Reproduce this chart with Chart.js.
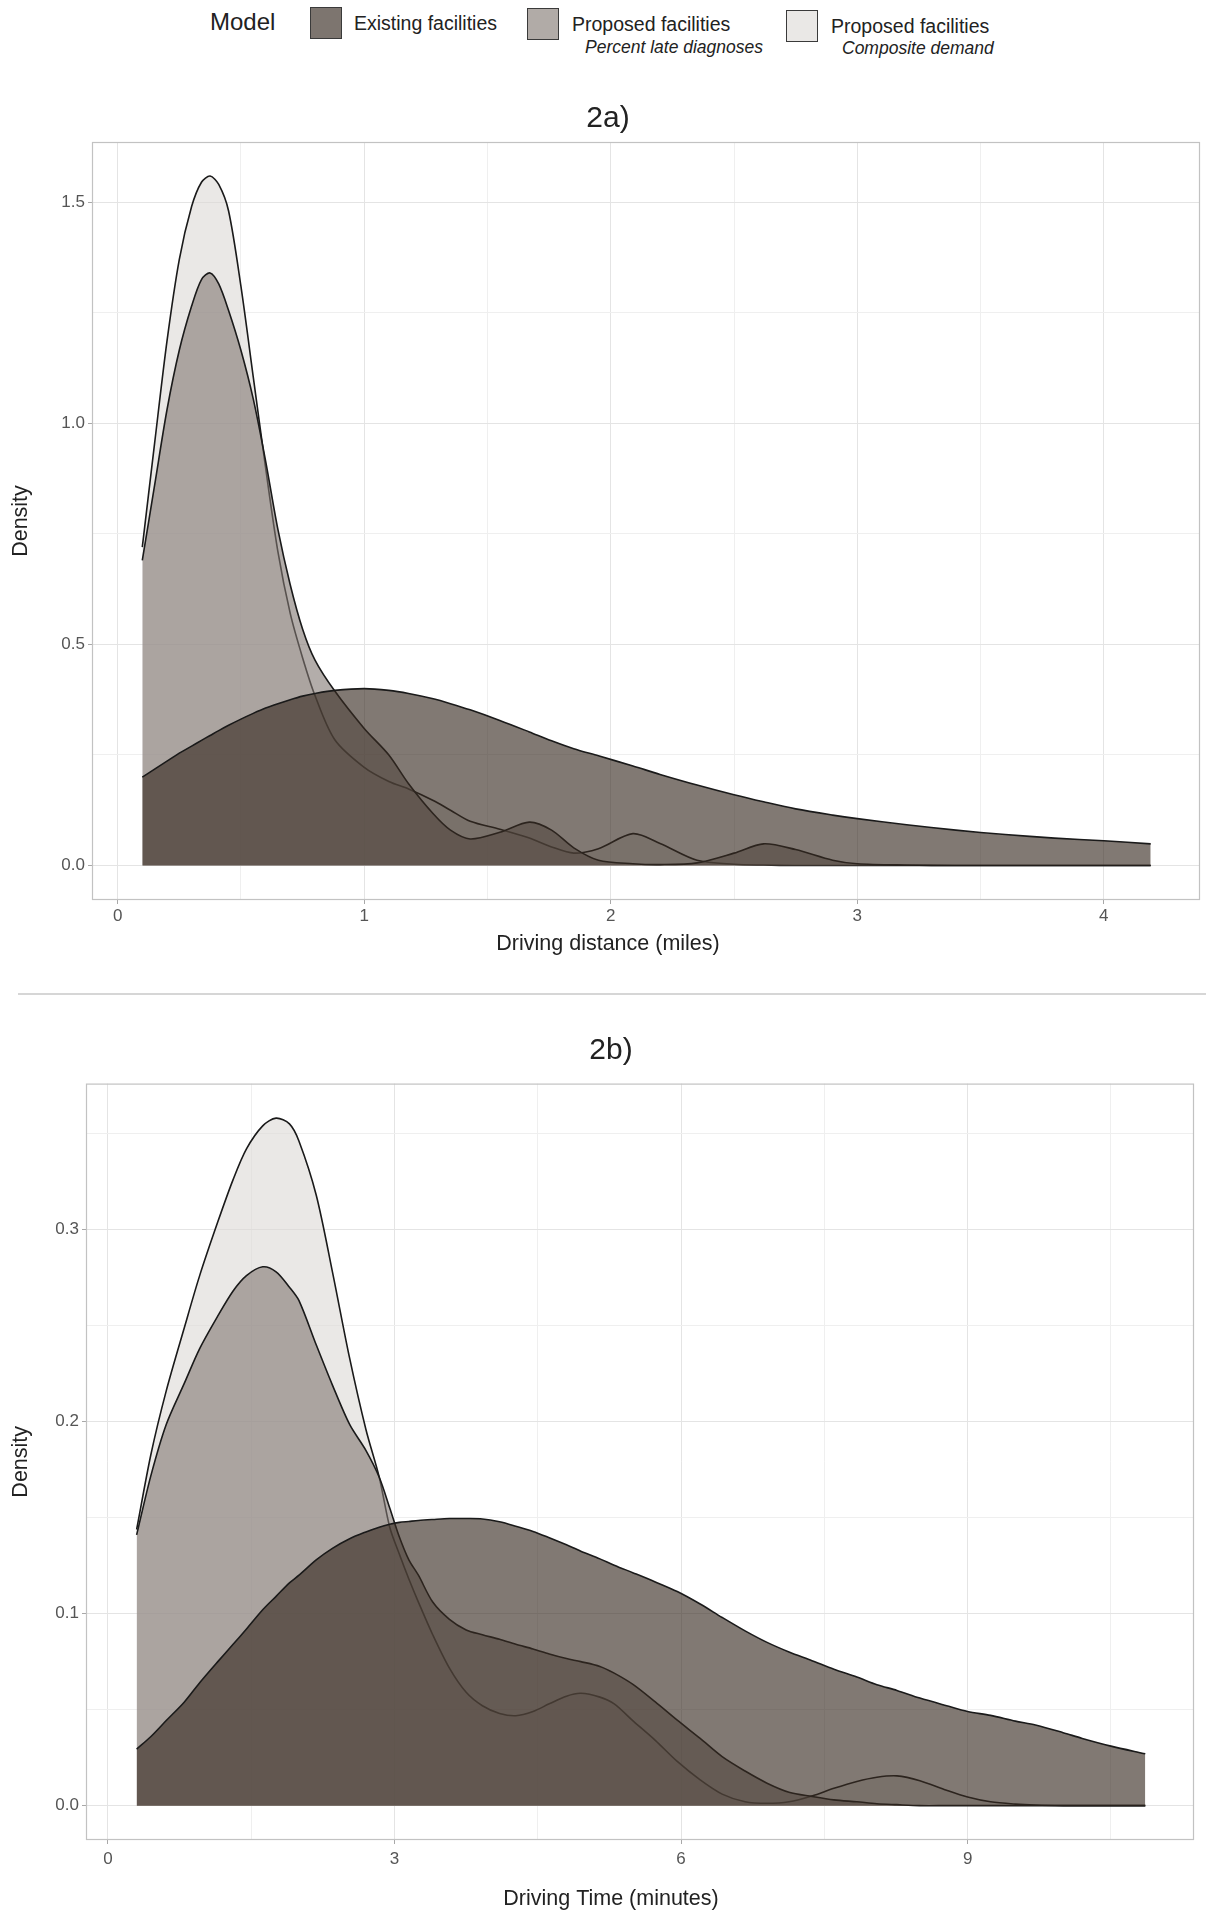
<!DOCTYPE html>
<html>
<head>
<meta charset="utf-8">
<script src="https://cdn.jsdelivr.net/npm/chart.js@4.4.1/dist/chart.umd.min.js"></script>
<style>
  html,body{margin:0;padding:0;background:#ffffff;overflow:hidden;}
  body{width:1206px;height:1920px;position:relative;font-family:"Liberation Sans",Arial,sans-serif;color:#222;}
  .t{position:absolute;white-space:nowrap;}
  .box{position:absolute;width:32px;height:32px;border:1.6px solid #3a3a3a;box-sizing:border-box;}
  #w1{position:absolute;left:0;top:100px;width:1206px;height:880px;}
  #w2{position:absolute;left:0;top:1000px;width:1206px;height:920px;}
  .sep{position:absolute;left:18px;top:993px;width:1188px;height:2px;background:#d6d6d6;}
</style>
</head>
<body>
<div class="t" style="left:210px;top:7px;font-size:24px;line-height:30px;">Model</div>
<div class="box" style="left:310px;top:7px;background:#7d756f;"></div>
<div class="t" style="left:354px;top:11px;font-size:19.5px;line-height:24px;">Existing facilities</div>
<div class="box" style="left:527px;top:8px;background:#b1aba7;"></div>
<div class="t" style="left:572px;top:12px;font-size:19.5px;line-height:24px;">Proposed facilities</div>
<div class="t" style="left:585px;top:36px;font-size:17.5px;line-height:22px;font-style:italic;">Percent late diagnoses</div>
<div class="box" style="left:786px;top:10px;background:#eae8e6;"></div>
<div class="t" style="left:831px;top:14px;font-size:19.5px;line-height:24px;">Proposed facilities</div>
<div class="t" style="left:842px;top:37px;font-size:17.5px;line-height:22px;font-style:italic;">Composite demand</div>

<div id="w1"><canvas id="c1" width="1206" height="880"></canvas></div>
<div class="sep"></div>
<div id="w2"><canvas id="c2" width="1206" height="920"></canvas></div>

<script>
// ---------- Panel 2a: driving distance (miles) ----------
const distX = [0.1,0.15,0.2,0.25,0.3,0.34,0.375,0.41,0.45,0.5,0.55,0.6,0.65,0.7,0.75,0.8,0.88,1.0,1.1,1.18,1.28,1.35,1.43,1.55,1.67,1.76,1.85,1.95,2.09,2.2,2.35,2.5,2.62,2.75,2.9,3.0,3.2,3.4,3.6,3.8,4.0,4.19];
const distExisting = [0.2,0.218,0.236,0.254,0.27,0.283,0.294,0.305,0.317,0.331,0.344,0.356,0.366,0.375,0.383,0.389,0.396,0.4,0.396,0.389,0.377,0.366,0.352,0.328,0.302,0.282,0.264,0.248,0.225,0.206,0.182,0.16,0.144,0.128,0.114,0.106,0.092,0.08,0.07,0.062,0.056,0.049];
const distLate = [0.69,0.86,1.03,1.165,1.265,1.325,1.34,1.315,1.255,1.165,1.055,0.915,0.76,0.635,0.535,0.465,0.395,0.31,0.25,0.185,0.117,0.08,0.06,0.075,0.098,0.08,0.04,0.012,0.004,0.002,0.006,0.028,0.049,0.036,0.012,0.004,0.001,0,0,0,0,0];
const distComposite = [0.72,0.955,1.185,1.37,1.49,1.545,1.559,1.54,1.48,1.31,1.105,0.9,0.71,0.57,0.47,0.385,0.285,0.222,0.19,0.173,0.147,0.125,0.1,0.082,0.062,0.042,0.028,0.038,0.072,0.05,0.012,0.003,0.001,0,0,0,0,0,0,0,0,0];
const distXTicks = [0,0.5,1,1.5,2,2.5,3,3.5,4];
const distXLabels = ['0','','1','','2','','3','','4'];
const distYTicks = [0,0.25,0.5,0.75,1,1.25,1.5];
const distYLabels = ['0.0','','0.5','','1.0','','1.5'];

// ---------- Panel 2b: driving time (minutes) ----------
const timeX = [0.3,0.45,0.61,0.8,0.96,1.15,1.31,1.45,1.62,1.76,1.9,2.0,2.18,2.35,2.53,2.7,2.84,2.95,3.05,3.15,3.25,3.4,3.575,3.75,3.92,4.1,4.27,4.45,4.62,4.8,4.95,5.15,5.3,5.5,5.73,5.96,6.2,6.43,6.67,6.9,7.13,7.37,7.6,7.84,8.05,8.26,8.5,8.78,9.0,9.24,9.5,9.71,10.0,10.2,10.5,10.86];
const timeExisting = [0.0294,0.036,0.0443,0.054,0.064,0.075,0.084,0.092,0.102,0.109,0.116,0.12,0.128,0.134,0.139,0.1425,0.145,0.1465,0.1475,0.148,0.1485,0.149,0.1495,0.1495,0.1493,0.1478,0.1455,0.1428,0.1395,0.1358,0.1325,0.1285,0.1252,0.1212,0.1165,0.1115,0.105,0.098,0.091,0.085,0.08,0.0755,0.071,0.067,0.063,0.06,0.056,0.052,0.049,0.047,0.044,0.042,0.038,0.035,0.031,0.027];
const timeLate = [0.141,0.172,0.1985,0.22,0.238,0.255,0.268,0.276,0.2806,0.278,0.27,0.263,0.24,0.219,0.1985,0.185,0.171,0.155,0.14,0.128,0.12,0.106,0.097,0.0915,0.089,0.0866,0.084,0.0816,0.079,0.0766,0.075,0.0725,0.069,0.063,0.054,0.0445,0.035,0.0255,0.018,0.0117,0.007,0.0048,0.003,0.002,0.001,0.0005,0,0,0,0,0,0,0,0,0,0];
const timeComposite = [0.1438,0.183,0.216,0.249,0.276,0.304,0.326,0.342,0.354,0.358,0.355,0.346,0.318,0.278,0.233,0.196,0.171,0.145,0.131,0.118,0.106,0.089,0.0716,0.059,0.052,0.048,0.0468,0.049,0.053,0.057,0.0585,0.0565,0.053,0.044,0.034,0.023,0.0134,0.006,0.002,0.0012,0.002,0.005,0.009,0.0126,0.0148,0.0155,0.013,0.008,0.0045,0.002,0.0008,0.0003,0,0,0,0];
const timeXTicks = [0,1.5,3,4.5,6,7.5,9,10.5];
const timeXLabels = ['0','','3','','6','','9',''];
const timeYTicks = [0,0.05,0.1,0.15,0.2,0.25,0.3,0.35];
const timeYLabels = ['0.0','','0.1','','0.2','','0.3',''];

const seriesNames = ['Existing facilities','Proposed facilities – Percent late diagnoses','Proposed facilities – Composite demand'];
const FONT = '"Liberation Sans", Arial, sans-serif';
const fills = ['rgba(55,42,34,0.63)','rgba(128,119,114,0.6)','rgba(220,216,213,0.6)'];

const framePlugin = {
  id: 'frame',
  afterDatasetsDraw(chart) {
    const a = chart.chartArea, ctx = chart.ctx;
    ctx.save();
    ctx.strokeStyle = '#c2c2c2';
    ctx.lineWidth = 1.2;
    ctx.strokeRect(a.left + 0.5, a.top + 0.5, a.right - a.left - 1, a.bottom - a.top - 1);
    ctx.restore();
  }
};

function makePanel(id, cfg) {
  const ds = cfg.series.map((ys, i) => ({
    label: seriesNames[i],
    data: cfg.xs.map((x, j) => ({x: x, y: ys[j]})),
    backgroundColor: fills[i],
    borderColor: '#1a1a1a',
    borderWidth: 1.6,
    pointRadius: 0,
    fill: 'origin',
    tension: 0.3
  }));
  const isMajor = (ticks, labels, c) => c.tick && ticks.indexOf(c.tick.value) >= 0 && labels[ticks.indexOf(c.tick.value)] !== '';
  const gridOpts = (ticks, labels) => ({
    color: c => isMajor(ticks, labels, c) ? '#e4e4e4' : '#efefef',
    lineWidth: 1,
    drawTicks: true,
    tickLength: 4,
    tickColor: c => isMajor(ticks, labels, c) ? '#a8a8a8' : 'rgba(0,0,0,0)'
  });
  return new Chart(document.getElementById(id), {
    type: 'line',
    data: { datasets: ds },
    options: {
      responsive: false,
      animation: false,
      devicePixelRatio: 1,
      layout: { padding: { left: cfg.padLeft, right: cfg.padRight, top: 0, bottom: 0 } },
      plugins: {
        legend: { display: false },
        tooltip: { enabled: false },
        title: {
          display: true, text: cfg.title, color: '#222',
          font: { family: FONT, size: 30, weight: 'normal', lineHeight: 1.2 },
          padding: cfg.titlePad
        },
        subtitle: {
          display: true, position: 'bottom', text: cfg.xTitle, color: '#222',
          font: { family: FONT, size: 21.5, weight: 'normal', lineHeight: 1.2 },
          padding: { top: 0, bottom: cfg.xTitlePad }
        }
      },
      scales: {
        x: {
          type: 'linear', min: cfg.xMin, max: cfg.xMax,
          afterBuildTicks: s => { s.ticks = cfg.xTicks.map(v => ({value: v})); },
          afterFit: s => { s.height = cfg.xAxisH; },
          border: { display: false },
          grid: gridOpts(cfg.xTicks, cfg.xLabels),
          ticks: {
            autoSkip: false, maxRotation: 0, padding: cfg.xTickPad, color: '#555',
            font: { family: FONT, size: 17 },
            callback: (v) => cfg.xLabels[cfg.xTicks.indexOf(v)] ?? ''
          }
        },
        y: {
          type: 'linear', min: cfg.yMin, max: cfg.yMax,
          afterBuildTicks: s => { s.ticks = cfg.yTicks.map(v => ({value: v})); },
          afterFit: s => { s.width = cfg.yWidth; },
          border: { display: false },
          grid: gridOpts(cfg.yTicks, cfg.yLabels),
          ticks: {
            autoSkip: false, padding: 3, color: '#555',
            font: { family: FONT, size: 17 },
            callback: (v) => cfg.yLabels[cfg.yTicks.indexOf(v)] ?? ''
          },
          title: {
            display: true, text: 'Density', color: '#222',
            font: { family: FONT, size: 21.5, lineHeight: 1.2 },
            padding: { top: cfg.yTitlePad, bottom: 0 }
          }
        }
      }
    },
    plugins: [framePlugin]
  });
}

makePanel('c1', {
  title: '2a)', titlePad: { top: 1, bottom: 5 },
  xs: distX, series: [distExisting, distLate, distComposite],
  xMin: -0.104, xMax: 4.39, yMin: -0.078, yMax: 1.636,
  xTicks: distXTicks, xLabels: distXLabels, yTicks: distYTicks, yLabels: distYLabels,
  xTitle: 'Driving distance (miles)', xTitlePad: 23.1, xTickPad: 2, xAxisH: 31.1,
  padLeft: 16, yWidth: 76, yTitlePad: -7.9, padRight: 6
});

makePanel('c2', {
  title: '2b)', titlePad: { top: 32.5, bottom: 15.1 },
  xs: timeX, series: [timeExisting, timeLate, timeComposite],
  xMin: -0.23, xMax: 11.37, yMin: -0.0179, yMax: 0.376,
  xTicks: timeXTicks, xLabels: timeXLabels, yTicks: timeYTicks, yLabels: timeYLabels,
  xTitle: 'Driving Time (minutes)', xTitlePad: 8.1, xTickPad: 5, xAxisH: 46.1,
  padLeft: 28, yWidth: 58, yTitlePad: -19.9, padRight: 12
});
</script>
</body>
</html>
